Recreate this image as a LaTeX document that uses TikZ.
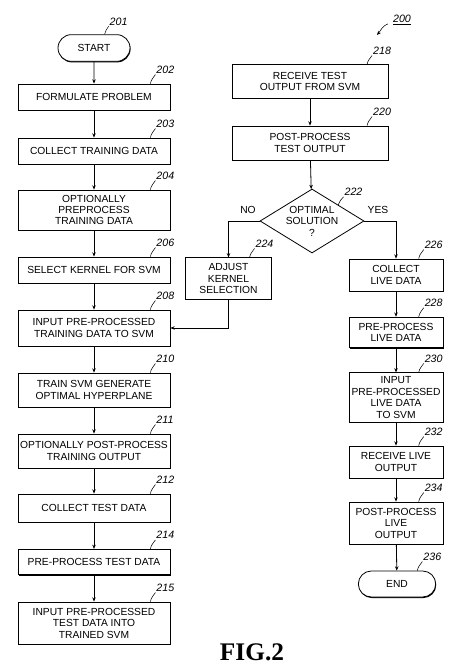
\documentclass[tikz,border=0pt]{standalone}
\usepackage{fontspec}
\setmainfont{Liberation Serif}
\setsansfont{Liberation Sans}
\usetikzlibrary{shapes.geometric,shapes.misc,arrows.meta,shadows}

\tikzset{
  box/.style={draw, fill=white, align=center, inner sep=1pt, line width=0.6pt,
    font=\sffamily\fontsize{7.7}{8.6}\selectfont,
    drop shadow={shadow xshift=0.4pt, shadow yshift=-0.8pt, opacity=1, fill=black}},
  lbox/.style={box, minimum width=114pt},
  rbox/.style={box, minimum width=70.5pt},
  term/.style={box, rounded rectangle},
  num/.style={anchor=south west, inner sep=0.6pt, font=\sffamily\itshape\fontsize{8}{9}\selectfont},
  lead/.style={line width=0.4pt},
  flow/.style={->, line width=0.6pt},
  >={Stealth[length=3.2pt,width=2.6pt]}
}

\begin{document}
\begin{tikzpicture}[x=0.75pt, y=-0.75pt]
	\useasboundingbox (0,0) rectangle (453,666);
	% left column
	\node[term, minimum width=56pt, minimum height=20pt] (start) at (94,48) {START};
	\node[lbox, minimum height=19.5pt] (p202) at (94,97) {FORMULATE PROBLEM};
	\node[lbox, minimum height=19.5pt] (p203) at (94,151) {COLLECT TRAINING DATA};
	\node[lbox, minimum height=30pt] (p204) at (94,210) {OPTIONALLY\\PREPROCESS\\TRAINING DATA};
	\node[lbox, minimum height=19.5pt] (p206) at (94,270) {SELECT KERNEL FOR SVM};
	\node[lbox, minimum height=27pt] (p208) at (94,328) {INPUT PRE-PROCESSED\\TRAINING DATA TO SVM};
	\node[lbox, minimum height=25.5pt] (p210) at (94,390) {TRAIN SVM GENERATE\\OPTIMAL HYPERPLANE};
	\node[lbox, minimum height=25.5pt] (p211) at (94,451) {OPTIONALLY POST-PROCESS\\TRAINING OUTPUT};
	\node[lbox, minimum height=21pt] (p212) at (94,508) {COLLECT TEST DATA};
	\node[lbox, minimum height=19pt] (p214) at (94,562) {PRE-PROCESS TEST DATA};
	\node[lbox, minimum height=31.5pt] (p215) at (94,623) {INPUT PRE-PROCESSED\\TEST DATA INTO\\TRAINED SVM};
	% right column
	\node[box, minimum width=117pt, minimum height=25pt] (p218) at (310,81.5) {RECEIVE TEST\\OUTPUT FROM SVM};
	\node[box, minimum width=117pt, minimum height=25.5pt] (p220) at (310,143) {POST-PROCESS\\TEST OUTPUT};
	\node[draw, diamond, aspect=1.6, inner sep=0pt, minimum width=78pt, minimum height=48pt, line width=0.6pt,
	      align=center, font=\sffamily\fontsize{7.7}{8.6}\selectfont] (dec) at (312,221) {OPTIMAL\\SOLUTION\\?};
	\node[box, minimum width=65pt, minimum height=31pt] (p224) at (228.5,278.5) {ADJUST\\KERNEL\\SELECTION};
	\node[rbox, minimum height=24pt] (p226) at (396,275) {COLLECT\\LIVE DATA};
	\node[rbox, minimum height=23pt] (p228) at (396,332.5) {PRE-PROCESS\\LIVE DATA};
	\node[rbox, minimum height=37pt] (p230) at (396,397.5) {INPUT\\PRE-PROCESSED\\LIVE DATA\\TO SVM};
	\node[rbox, minimum height=24pt] (p232) at (396,462) {RECEIVE LIVE\\OUTPUT};
	\node[rbox, minimum height=31.5pt] (p234) at (396,523) {POST-PROCESS\\LIVE\\OUTPUT};
	\node[term, minimum width=60pt, minimum height=19.5pt] (end) at (397,584) {END};
	\node[font=\sffamily\fontsize{7.7}{8.6}\selectfont] (no) at (248,210) {NO};
	\node[font=\sffamily\fontsize{7.7}{8.6}\selectfont] (yes) at (378,210) {YES};
	% connectors
	\foreach \a/\b in {start/p202,p202/p203,p203/p204,p204/p206,p206/p208,p208/p210,p210/p211,
	                   p211/p212,p212/p214,p214/p215,p218/p220,p220/dec,p226/p228,p228/p230,
	                   p230/p232,p232/p234,p234/end}
	  \draw[flow] (\a) -- (\b);
	\draw[flow] (dec.west) -| (p224.north);
	\draw[flow] (p224.south) |- (p208.east);
	\draw[flow] (dec.east) -| (p226.north);
	% reference numerals
	\draw[lead] ([xshift=-9pt]start.north east) to[out=80,in=235] ++(3pt,6pt) node[num] (n201) {201};
	\foreach \p in {202,203,204,206,208,210,211,212,214,215}
	  \draw[lead] ([xshift=-15pt]p\p.north east) to[out=80,in=235] ++(3.75pt,6.75pt) node[num] (n\p) {\p};
	\draw[lead] ([xshift=-16pt]p218.north east) to[out=80,in=235] ++(3.75pt,6.75pt) node[num] (n218) {218};
	\draw[lead] ([xshift=-16pt]p220.north east) to[out=80,in=235] ++(3.75pt,6.75pt) node[num] (n220) {220};
	\draw[lead] (dec.north east) to[out=80,in=235] ++(4pt,6pt) node[num] (n222) {222};
	\draw[lead] ([xshift=-17pt]p224.north east) to[out=80,in=235] ++(3.75pt,6.75pt) node[num] (n224) {224};
	\foreach \p in {226,228,230,232,234}
	  \draw[lead] ([xshift=-18.5pt]p\p.north east) to[out=80,in=235] ++(3.75pt,6.75pt) node[num] (n\p) {\p};
	\draw[lead] ([xshift=-4pt]end.north east) to[out=80,in=235] ++(3.75pt,6.75pt) node[num] (n236) {236};
	\node[num] (n200) at (392,26) {\underline{200}};
	\coordinate (fig) at (377,35);
	\draw[lead, ->] ([xshift=-3pt,yshift=-3pt]n200.west) to[out=200,in=50] (fig);
	\node[font=\fontsize{19}{22}\selectfont\bfseries] (fig2) at (252,652) {FIG.2};
\end{tikzpicture}
\end{document}
